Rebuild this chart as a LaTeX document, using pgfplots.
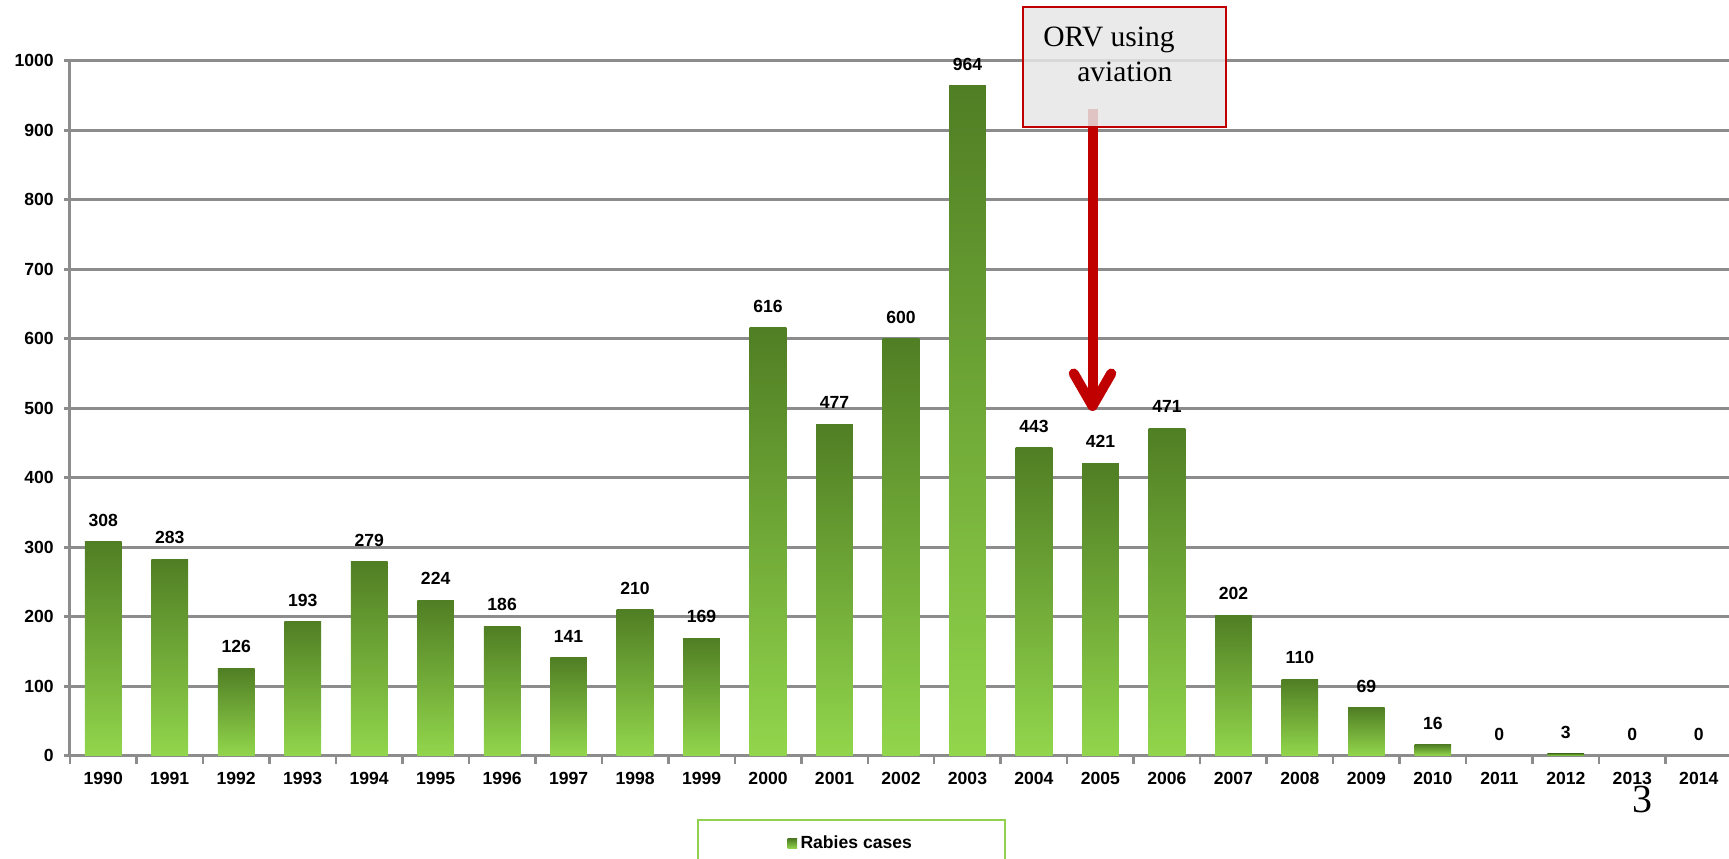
\documentclass[border=0pt]{standalone}
\usepackage{pgfplots}
\pgfplotsset{compat=1.18}
\usepackage{fontspec}
\setmainfont{Liberation Sans}
\newfontfamily\seriffont{Liberation Serif}
\usetikzlibrary{arrows.meta}
\definecolor{gridgray}{RGB}{140,140,140}
\definecolor{bartop}{RGB}{80,126,36}
\definecolor{barbot}{RGB}{146,214,76}
\definecolor{legsq}{RGB}{110,170,60}
\definecolor{legborder}{RGB}{146,208,80}
\definecolor{arrred}{RGB}{192,0,0}
\definecolor{boxfill}{RGB}{230,230,230}
\pgfplotsset{mybar/.style={draw=none, top color=bartop, bottom color=barbot, bar shift=0pt}}
\begin{document}
\begin{tikzpicture}
\useasboundingbox (0,0) rectangle (345.8mm,171.8mm);
\begin{axis}[
  at={(14mm,20.66mm)}, anchor=south west,
  scale only axis, width=332.4mm, height=139mm,
  xmin=-0.5, xmax=24.5, ymin=0, ymax=1000,
  clip=false,
  axis x line*=bottom, axis y line*=left,
  axis line style={gridgray, line width=0.6mm},
  ymajorgrids, major grid style={gridgray, line width=0.55mm},
  ytick={0,100,...,1000},
  xtick={0,...,24},
  xticklabels={1990,1991,1992,1993,1994,1995,1996,1997,1998,1999,2000,2001,2002,2003,2004,2005,2006,2007,2008,2009,2010,2011,2012,2013,2014},
  minor xtick={-0.5,0.5,...,24.5},
  tick align=outside,
  major tick length=1.2mm, minor tick length=1.6mm,
  major x tick style={draw=none},
  minor x tick style={gridgray, line width=0.5mm},
  major y tick style={gridgray, line width=0.55mm},
  /pgf/number format/assume math mode=true,
  /pgf/number format/1000 sep={},
  tick label style={font=\fontsize{10}{12}\selectfont\bfseries},
  xticklabel style={inner sep=0pt, yshift=-2mm},
  yticklabel style={inner sep=0pt, xshift=-2mm},
  ybar, bar width=7.34mm,
  nodes near coords,
  nodes near coords style={font=\fontsize{10}{12}\selectfont\bfseries, inner sep=0pt, anchor=south, yshift=3mm},
  legend style={at={(0.4702,-0.0911)}, anchor=north, draw=legborder, line width=0.4mm,
    inner xsep=18mm, inner ysep=2.5mm, font=\fontsize{10}{12}\selectfont\bfseries},
  legend image code/.code={\fill[legsq, draw=none] (0mm,-0.95mm) rectangle (1.9mm,0.95mm);},
]
\addplot[mybar] coordinates {(0,308)};
\addlegendentry{Rabies cases}
\addplot[mybar, forget plot] coordinates {(1,283)};
\addplot[mybar, forget plot] coordinates {(2,126)};
\addplot[mybar, forget plot] coordinates {(3,193)};
\addplot[mybar, forget plot] coordinates {(4,279)};
\addplot[mybar, forget plot] coordinates {(5,224)};
\addplot[mybar, forget plot] coordinates {(6,186)};
\addplot[mybar, forget plot] coordinates {(7,141)};
\addplot[mybar, forget plot] coordinates {(8,210)};
\addplot[mybar, forget plot] coordinates {(9,169)};
\addplot[mybar, forget plot] coordinates {(10,616)};
\addplot[mybar, forget plot] coordinates {(11,477)};
\addplot[mybar, forget plot] coordinates {(12,600)};
\addplot[mybar, forget plot] coordinates {(13,964)};
\addplot[mybar, forget plot] coordinates {(14,443)};
\addplot[mybar, forget plot] coordinates {(15,421)};
\addplot[mybar, forget plot] coordinates {(16,471)};
\addplot[mybar, forget plot] coordinates {(17,202)};
\addplot[mybar, forget plot] coordinates {(18,110)};
\addplot[mybar, forget plot] coordinates {(19,69)};
\addplot[mybar, forget plot] coordinates {(20,16)};
\addplot[mybar, forget plot] coordinates {(21,0)};
\addplot[mybar, forget plot] coordinates {(22,3)};
\addplot[mybar, forget plot] coordinates {(23,0)};
\addplot[mybar, forget plot] coordinates {(24,0)};
\end{axis}
% annotation
\draw[arrred, line width=2mm, -{Straight Barb[round, length=6.5mm, width=7.5mm]}] (218.5mm,150mm) -- (218.5mm,89.6mm);
\fill[boxfill, fill opacity=0.85] (204.6mm,146.4mm) rectangle (245.2mm,170.4mm);
\draw[arrred, line width=0.4mm] (204.6mm,146.4mm) rectangle (245.2mm,170.4mm);
\node[anchor=base west, inner sep=0pt, font=\seriffont\fontsize{16.8}{20}\selectfont] at (208.6mm,162.46mm) {ORV using};
\node[anchor=base west, inner sep=0pt, font=\seriffont\fontsize{16.8}{20}\selectfont] at (215.4mm,155.46mm) {aviation};
\node[anchor=base, inner sep=0pt, font=\seriffont\fontsize{22.7}{26}\selectfont] at (328.4mm,9.2mm) {3};
\end{tikzpicture}
\end{document}
